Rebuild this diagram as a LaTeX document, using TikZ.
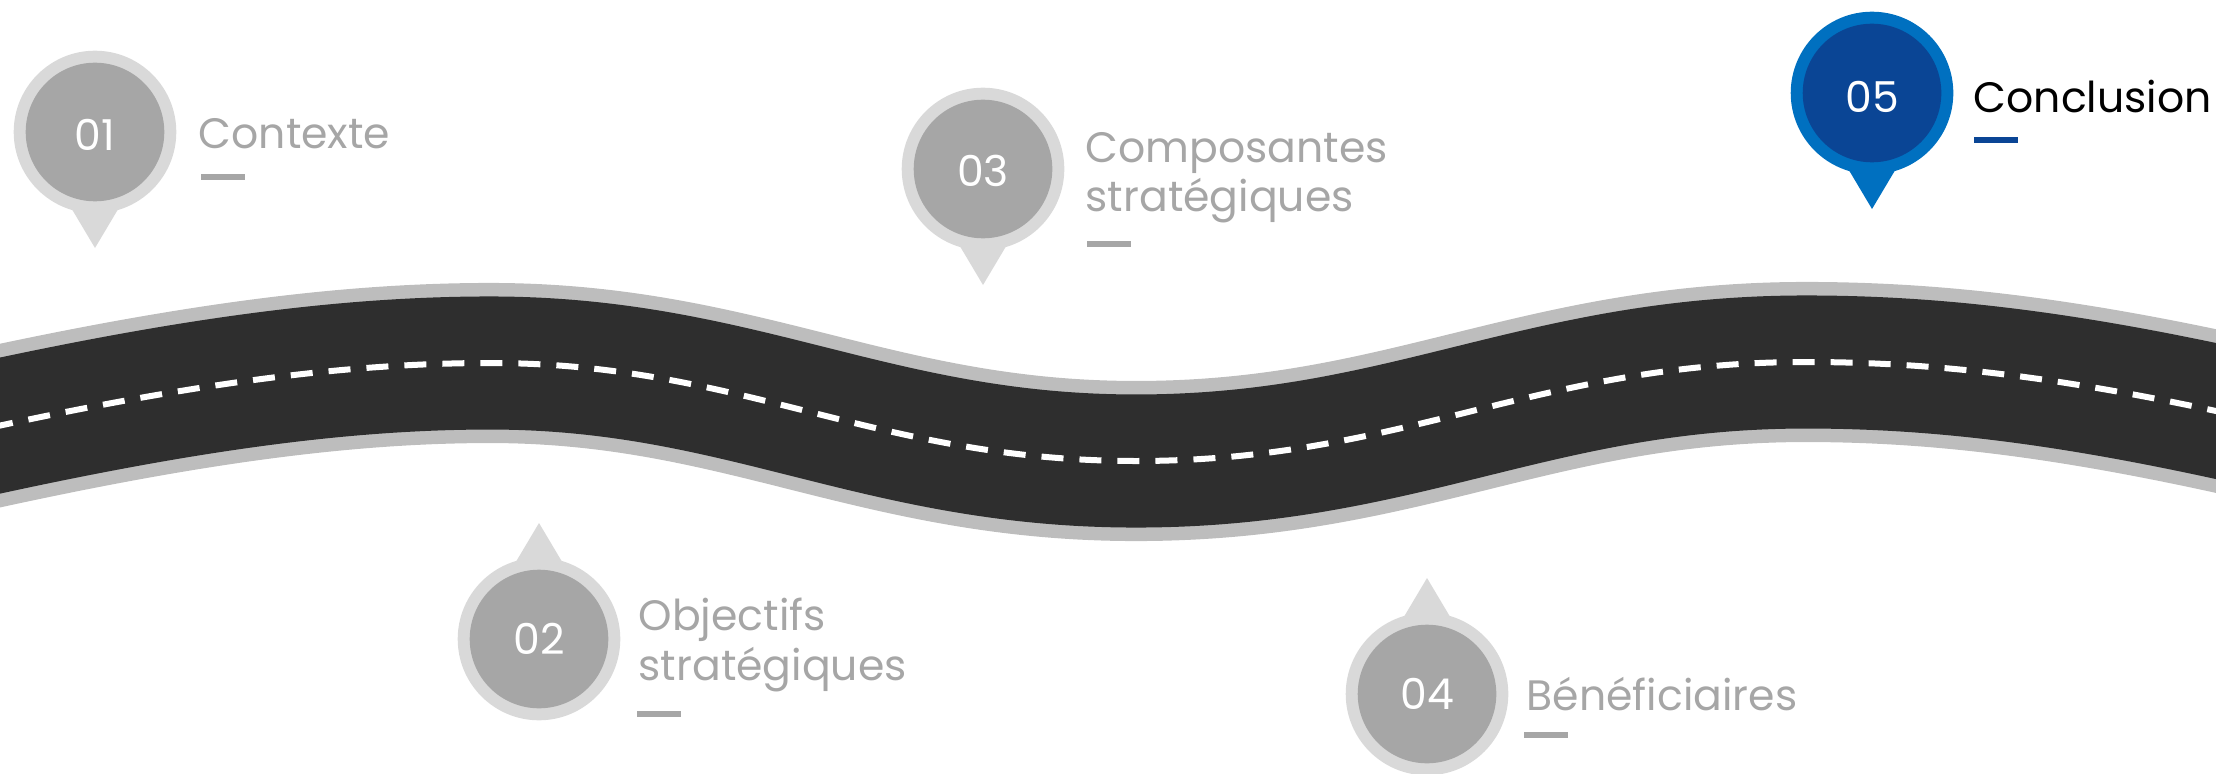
\documentclass[tikz,border=0pt]{standalone}
\usepackage{fontspec}
\setmainfont{Poppins}
\definecolor{roadedge}{HTML}{BDBDBD}
\definecolor{roaddark}{HTML}{2E2E2E}
\definecolor{pinout}{HTML}{D9D9D9}
\definecolor{pinin}{HTML}{A6A6A6}
\definecolor{blueout}{HTML}{0070C0}
\definecolor{bluein}{HTML}{0A4595}
\tikzset{
  px/.style={x=0.01cm,y=-0.01cm},
  numtext/.style={inner sep=0pt,anchor=base,text=white,font=\fontsize{12.1}{14.2}\selectfont},
  labeltext/.style={inner sep=0pt,anchor=base west,align=left,font=\fontsize{12.1}{14.2}\selectfont},
}
% #1 x, #2 y, #3 tip direction (1 down, -1 up), #4 outer, #5 inner, #6 number, #7 name, #8 number baseline
\newcommand{\roadpin}[8]{%
  \fill[#4] (#1,#2) circle[radius=81.3];
  \fill[#4] ({#1-26},{#2+#3*72.3}) -- ({#1+26},{#2+#3*72.3}) -- (#1,{#2+#3*116}) -- cycle;
  \fill[#5] (#1,#2) circle[radius=69.3];
  \node[numtext] (num#7) at (#1,#8) {#6};
}
\newcommand{\underdash}[3]{\fill[#3] (#1,{#2-3}) rectangle ({#1+44},{#2+3});}
\begin{document}
\begin{tikzpicture}[px]
\useasboundingbox (0,0) rectangle (2216,773);
\clip (0,0) rectangle (2216,773);
\def\roadpath{(-160,462) .. controls (100,400) and (300,363) .. (490,363)
  .. controls (742,363) and (876,461) .. (1136,461)
  .. controls (1404,461) and (1536,362) .. (1806,362)
  .. controls (1970,362) and (2130,387) .. (2370,447)}
\draw[roadedge,line width=1.6cm] \roadpath;
\draw[roaddark,line width=1.33cm] \roadpath;
\draw[white,line width=0.06cm,dash pattern=on 0.22cm off 0.16cm,dash phase=0.35cm] \roadpath;

\roadpin{95}{132}{1}{pinout}{pinin}{01}{A}{150}
\roadpin{539}{639}{-1}{pinout}{pinin}{02}{B}{654}
\roadpin{983}{169}{1}{pinout}{pinin}{03}{C}{186}
\roadpin{1427}{694}{-1}{pinout}{pinin}{04}{D}{709}
\roadpin{1872}{93}{1}{blueout}{bluein}{05}{E}{113}

\node[labeltext,text=pinin] (labA) at (198,149) {Contexte};
\node[labeltext,text=pinin] (labB) at (638,680) {Objectifs\\stratégiques};
\node[labeltext,text=pinin] (labC) at (1085,212) {Composantes\\stratégiques};
\node[labeltext,text=pinin] (labD) at (1526,710) {Bénéficiaires};
\node[labeltext,text=black] (labE) at (1973,113) {Conclusion};

\underdash{201}{177}{pinin}
\underdash{637}{714}{pinin}
\underdash{1087}{244}{pinin}
\underdash{1524}{735}{pinin}
\underdash{1974}{140}{bluein}
\end{tikzpicture}
\end{document}
